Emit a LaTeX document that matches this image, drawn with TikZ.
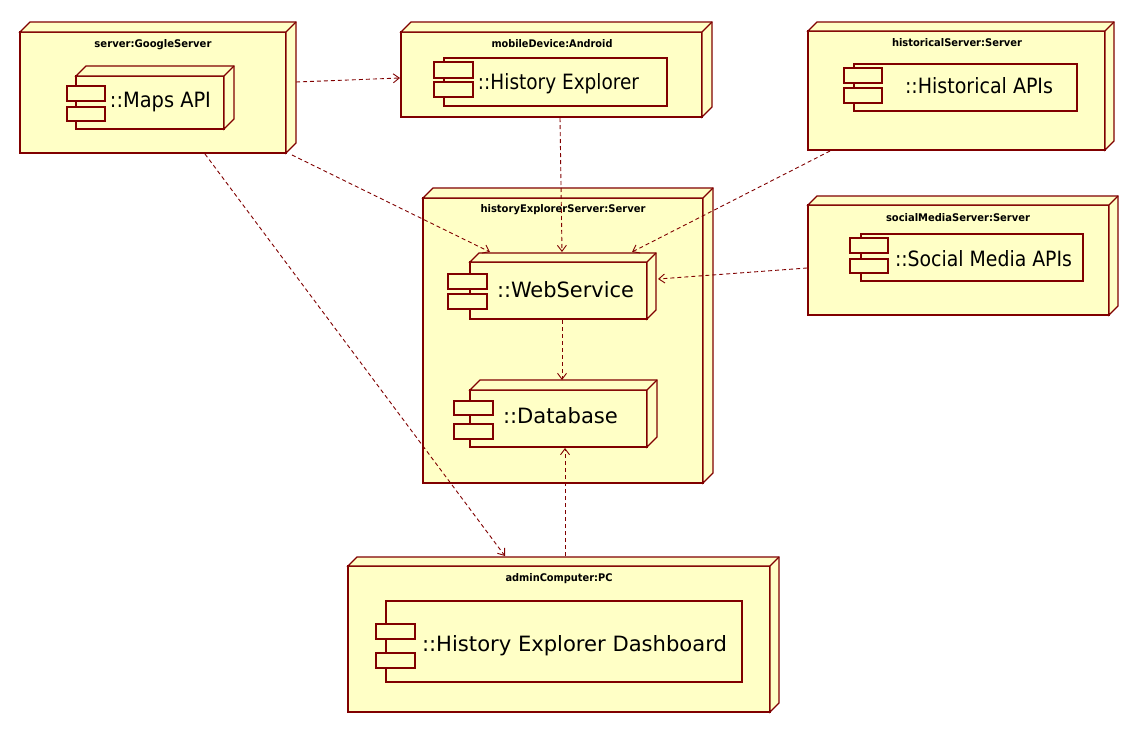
\documentclass[tikz,border=0pt]{standalone}
\usepackage{fontspec}
\setmainfont{DejaVu Sans Condensed}
\usetikzlibrary{calc,arrows.meta}
\definecolor{nodefill}{HTML}{FFFFC6}
\definecolor{edgecol}{HTML}{800000}
\tikzset{
  box/.style={draw=edgecol, fill=nodefill, line width=1.3pt, inner sep=0pt, outer sep=0pt},
  face/.style={draw=edgecol, fill=nodefill, line width=1.3pt, line join=miter},
  dep/.style={draw=edgecol, line width=0.9pt, dash pattern=on 4pt off 3pt, -{Straight Barb[length=6pt,width=9pt]}},
  lbl/.style={anchor=base, inner sep=0pt, outer sep=0pt, text=black},
}
\newcommand\boxnode[5]{\node[box, minimum width={(#4-#2)*1pt}, minimum height={(#5-#3)*1pt}] (#1) at ({(#2+#4)/2},{(#3+#5)/2}) {};}
\newcommand\threed[2]{%
  \filldraw[face] (#1.north west) -- ++(#2,-#2) -- ($(#1.north east)+(#2,-#2)$) -- ($(#1.south east)+(#2,-#2)$) -- (#1.south east) -- (#1.north east) -- cycle;
  \draw[face] (#1.north east) -- ++(#2,-#2);}
\newcommand\comptext[2]{\resizebox{#1pt}{16pt}{\vphantom{Hl}#2}}
\newcommand\titletext[2]{\resizebox{#1pt}{8pt}{\bfseries\vphantom{Hl}#2}}
\begin{document}
\begin{tikzpicture}[x=1pt,y=-1pt]
\fill[white] (0,0) rectangle (1139,732);
\useasboundingbox (0,0) rectangle (1139,732);

% server:GoogleServer
\boxnode{g}{20}{32}{286}{153}
\threed{g}{10}
\node[lbl] (gt) at (153,47) {\titletext{117}{server:GoogleServer}};
\boxnode{mapc}{76}{76}{224}{129}
\threed{mapc}{10}
\boxnode{mapp1}{67}{86}{105}{101}
\boxnode{mapp2}{67}{107}{105}{121}
\node[lbl] (mapt) at (160.5,107) {\comptext{101}{::Maps API}};

% mobileDevice:Android
\boxnode{m}{401}{32}{702}{117}
\threed{m}{10}
\node[lbl] (mt) at (552,47) {\titletext{121}{mobileDevice:Android}};
\boxnode{hec}{444}{58}{667}{106}
\boxnode{hep1}{434}{62}{473}{78}
\boxnode{hep2}{434}{82}{473}{97}
\node[lbl] (het) at (558.5,89) {\comptext{161}{::History Explorer}};

% historicalServer:Server
\boxnode{hs}{808}{31}{1105}{150}
\threed{hs}{9}
\node[lbl] (hst) at (957,46) {\titletext{130}{historicalServer:Server}};
\boxnode{hac}{854}{64}{1077}{111}
\boxnode{hap1}{844}{68}{882}{83}
\boxnode{hap2}{844}{88}{882}{103}
\node[lbl] (hat) at (979,93) {\comptext{148}{::Historical APIs}};

% historyExplorerServer:Server
\boxnode{h}{423}{198}{703}{483}
\threed{h}{10}
\node[lbl] (ht) at (563,212) {\titletext{165}{historyExplorerServer:Server}};
\boxnode{ws}{470}{262}{647}{319}
\threed{ws}{9}
\boxnode{wsp1}{448}{274}{487}{289}
\boxnode{wsp2}{448}{294}{487}{309}
\node[lbl] (wst) at (565.5,297) {\comptext{137}{::WebService}};
\boxnode{db}{470}{390}{647}{447}
\threed{db}{10}
\boxnode{dbp1}{454}{401}{493}{415}
\boxnode{dbp2}{454}{424}{493}{439}
\node[lbl] (dbt) at (560.5,423) {\comptext{115}{::Database}};

% socialMediaServer:Server
\boxnode{s}{808}{205}{1109}{315}
\threed{s}{9}
\node[lbl] (st) at (958,221) {\titletext{144}{socialMediaServer:Server}};
\boxnode{smc}{861}{234}{1083}{281}
\boxnode{smp1}{850}{238}{888}{253}
\boxnode{smp2}{850}{259}{888}{273}
\node[lbl] (smt) at (983.5,266) {\comptext{177}{::Social Media APIs}};

% adminComputer:PC
\boxnode{a}{348}{566}{770}{712}
\threed{a}{9}
\node[lbl] (at) at (559,581) {\titletext{107}{adminComputer:PC}};
\boxnode{dsc}{386}{601}{742}{682}
\boxnode{dsp1}{376}{624}{415}{639}
\boxnode{dsp2}{376}{653}{415}{668}
\node[lbl] (dst) at (574.5,651) {\comptext{305}{::History Explorer Dashboard}};

% dependencies
\draw[dep] ($(g.north east)+(10,50)$) -- ($(m.north west)+(-1,46)$);
\draw[dep] ($(g.south east)+(6,2)$) -- ($(ws.north west)+(20,-10)$);
\draw[dep] ($(g.south west)+(185,1)$) -- ($(a.north west)+(157,-10)$);
\draw[dep] ($(m.south west)+(159,1)$) -- ($(ws.north west)+(92,-10)$);
\draw[dep] ($(hs.south west)+(22,1)$) -- ($(ws.north west)+(162,-10)$);
\draw[dep] ($(s.north west)+(-1,63)$) -- ($(ws.north east)+(11,17)$);
\draw[dep] ($(ws.south west)+(92,1)$) -- ($(db.north west)+(92,-10)$);
\draw[dep] ($(a.north west)+(217,-10)$) -- ($(db.south west)+(95,1)$);
\end{tikzpicture}
\end{document}
